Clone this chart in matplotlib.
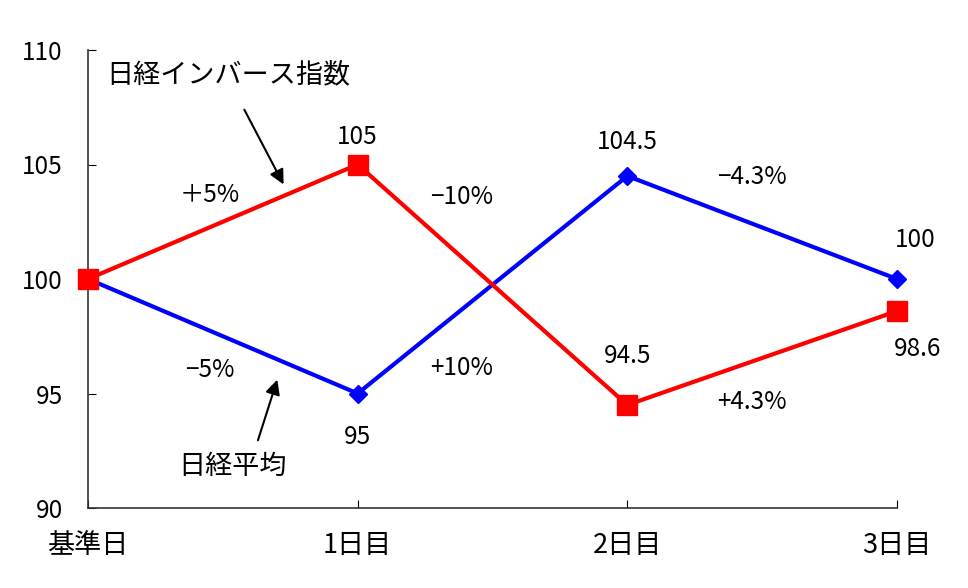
import matplotlib
matplotlib.use("Agg")
import matplotlib.pyplot as plt

plt.rcParams['font.family'] = ['Noto Sans CJK JP', 'DejaVu Sans']

days = ["基準日", "1日目", "2日目", "3日目"]
nikkei = [100, 95, 104.5, 100]
inverse = [100, 105, 94.5, 98.6]
nikkei_chg = ["−5%", "+10%", "−4.3%"]
inverse_chg = ["＋5%", "−10%", "+4.3%"]

fig = plt.figure(figsize=(9.68, 5.88), dpi=100)
ax = fig.add_axes([88/968, 1-508/588, (897-88)/968, (508-50)/588])

x = range(len(days))
ax.plot(x, nikkei, color="#0000ff", lw=3, marker="D", ms=9, zorder=3, clip_on=False)
ax.plot(x, inverse, color="#ff0000", lw=3, marker="s", ms=14, zorder=4, clip_on=False)

ax.set_xlim(0, 3)
ax.set_ylim(90, 110)
ax.set_yticks([90, 95, 100, 105, 110])
ax.set_xticks(list(x), days)
ax.tick_params(axis="y", direction="in", length=6, pad=18, labelsize=17.5)
ax.tick_params(axis="x", direction="in", length=6, pad=17, labelsize=19.5)
ax.spines["top"].set_visible(False)
ax.spines["right"].set_visible(False)
for s in ["left", "bottom"]:
    ax.spines[s].set_color("#333333")
    ax.spines[s].set_linewidth(1.2)

fs = 17.5
# value labels (offsets in points)
n_off = [None, (0, -31), (0, 24.5), (13, 28)]
i_off = [None, (0, 19.5), (0, 35), (15, -27)]
for i in range(1, 4):
    ax.annotate(f"{nikkei[i]:g}", (i, nikkei[i]), xytext=n_off[i], textcoords="offset points",
                ha="center", va="center", fontsize=fs)
    ax.annotate(f"{inverse[i]:g}", (i, inverse[i]), xytext=i_off[i], textcoords="offset points",
                ha="center", va="center", fontsize=fs)

# change labels between days
chg_x = [0.45, 1.387, 2.462]
ax.text(chg_x[0], 103.67, inverse_chg[0], ha="center", va="center", fontsize=fs)
ax.text(chg_x[1], 103.58, inverse_chg[1], ha="center", va="center", fontsize=fs)
ax.text(chg_x[2], 94.63, inverse_chg[2], ha="center", va="center", fontsize=fs)
ax.text(chg_x[0], 96.03, nikkei_chg[0], ha="center", va="center", fontsize=fs)
ax.text(chg_x[1], 96.11, nikkei_chg[1], ha="center", va="center", fontsize=fs)
ax.text(chg_x[2], 104.45, nikkei_chg[2], ha="center", va="center", fontsize=fs)

# series names with arrows
ax.text(0.519, 108.91, "日経インバース指数", ha="center", va="center", fontsize=19.5)
ax.annotate("", xy=(0.730, 104.02), xytext=(0.575, 107.5),
            arrowprops=dict(arrowstyle="-|>", color="black", lw=1.5, mutation_scale=22))
ax.text(0.534, 91.83, "日経平均", ha="center", va="center", fontsize=19.5)
ax.annotate("", xy=(0.705, 95.72), xytext=(0.627, 92.84),
            arrowprops=dict(arrowstyle="-|>", color="black", lw=1.5, mutation_scale=22))

fig.savefig("out.png", dpi=100)
